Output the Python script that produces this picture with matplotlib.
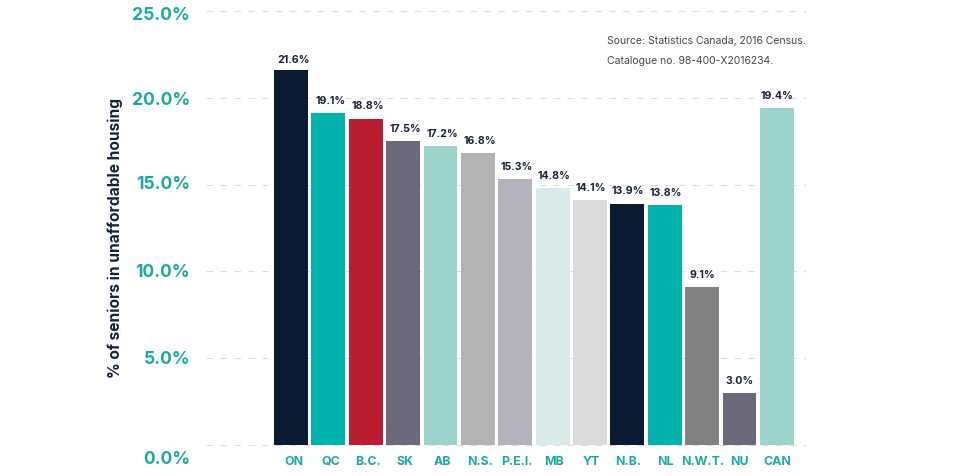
import matplotlib
matplotlib.use("Agg")
import matplotlib.pyplot as plt
from matplotlib.transforms import ScaledTranslation
import numpy as np

# Data
regions = ["ON", "QC", "B.C.", "SK", "AB", "N.S.", "P.E.I.", "MB", "YT", "N.B.", "NL", "N.W.T.", "NU", "CAN"]
values = [21.6, 19.1, 18.8, 17.5, 17.2, 16.8, 15.3, 14.8, 14.1, 13.9, 13.8, 9.1, 3.0, 19.4]
bar_colors = ["#0b1a33", "#00b3ad", "#bb1e2f", "#6a6a7a", "#9dd3cd", "#b3b3b3", "#b4b3bd",
              "#d8ebe8", "#dcdbdc", "#0b1a33", "#00b3ad", "#808183", "#6a6a7a", "#9dd3cd"]
y_ticks = [0, 5, 10, 15, 20, 25]

TEAL = "#1aaa9f"
NAVY = "#17223a"

plt.rcParams["font.family"] = ["Inter", "DejaVu Sans"]

W, H = 960, 476
fig = plt.figure(figsize=(W / 100, H / 100), dpi=100)
ax = fig.add_axes([206 / W, 1 - 445 / H, 600 / W, 434 / H])

x = np.arange(len(regions))
ax.bar(x, values, width=0.905, color=bar_colors, zorder=2)

# the labels sit on a slightly tighter pitch than the bars
label_x = x + (3 - 0.23 * x) / 37.38

for i, (lx, v) in enumerate(zip(label_x, values)):
    # the first label sits closer to its bar than the others
    gap = 3.6 if i == 0 else 5.2
    ax.annotate(f"{v:.1f}%", (lx, v), xytext=(0, gap), textcoords="offset points",
                ha="center", va="bottom", fontsize=7.6, fontweight="bold", color=NAVY, zorder=3)

ax.set_xlim(-2.274, 13.78)
ax.set_ylim(0, 25)
ax.set_yticks(y_ticks)
ax.set_yticklabels([f"{t:.1f}%" for t in y_ticks], fontsize=12.6, fontweight="bold", color=TEAL)
ax.tick_params(axis="y", length=0, pad=11.5)

# y labels are not evenly placed in the original, 0.0% drops well below its line
nudge_px = [13, -1, -1, -2, 1, 2]
for label, n in zip(ax.get_yticklabels(), nudge_px):
    label.set_transform(label.get_transform() + ScaledTranslation(0, -n / 100, fig.dpi_scale_trans))

ax.set_xticks(label_x)
ax.set_xticklabels(regions, fontsize=8.9, fontweight="bold", color=TEAL)
ax.tick_params(axis="x", length=0, pad=7.7)

ax.grid(axis="x", visible=False)
ax.grid(axis="y", color="#dddddd", linewidth=0.8, linestyle=(0, (6, 6.5)), zorder=1, clip_on=False)
ax.set_axisbelow(True)
for spine in ax.spines.values():
    spine.set_visible(False)

fig.text(115.5 / W, 1 - 237.5 / H, "% of seniors in unaffordable housing", rotation=90,
         ha="center", va="center", fontsize=11.2, fontweight="bold", color=NAVY)

fig.text(607 / W, 1 - 40.5 / H, "Source: Statistics Canada, 2016 Census.",
         ha="left", va="center", fontsize=7.5, color="#45464c")
fig.text(607 / W, 1 - 60.5 / H, "Catalogue no. 98-400-X2016234.",
         ha="left", va="center", fontsize=7.5, color="#45464c")

fig.savefig("out.png", dpi=100)
